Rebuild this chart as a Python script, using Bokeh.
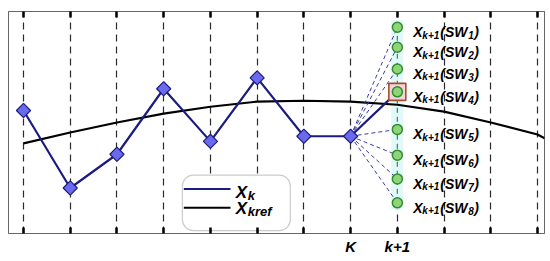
from bokeh.plotting import figure
from bokeh.models import FixedTicker, LinearAxis, BoxAnnotation, Range1d, CustomLabelingPolicy
from bokeh.core.properties import value
from bokeh.embed import file_html
from bokeh.resources import INLINE
import math

# ---------------- data ----------------
steps = [0, 1, 2, 3, 4, 5, 6, 7]
xk_values = [5.54, 2.05, 3.57, 6.52, 4.15, 7.01, 4.38, 4.38]
next_step = 8
sw_values = [9.29, 8.39, 7.41, 6.38, 4.69, 3.53, 2.46, 1.38]
sw_index = ["1", "2", "3", "4", "5", "6", "7", "8"]
chosen_sw = 3  # SW4
ref_x = [0, 1, 2, 3, 4, 5, 6, 7, 8, 9, 10, 11, 11.15]
ref_values = [4.06, 4.55, 5.00, 5.40, 5.71, 5.94, 5.98, 5.94, 5.80, 5.49, 5.00, 4.46, 4.29]
grid_ticks = list(range(12))
tick_labels = {7: "K", 8: "k+1"}

FONT = "Liberation Sans"
NAVY = "#1c1c7e"

p = figure(width=550, height=261, output_backend="svg", toolbar_location=None,
           x_range=Range1d(-0.321, 11.149), y_range=Range1d(0, 10),
           min_border_left=8, min_border_right=6, min_border_top=9, min_border_bottom=28)
p.background_fill_color = "white"
p.outline_line_color = "#666666"
p.outline_line_width = 1
p.yaxis.visible = False
p.ygrid.visible = False

# vertical dashed grid
p.xgrid.ticker = FixedTicker(ticks=grid_ticks, minor_ticks=[])
p.xgrid.grid_line_color = "#2a2a2a"
p.xgrid.grid_line_dash = "7 5"
p.xgrid.grid_line_width = 1.2
p.xgrid.grid_line_alpha = 1.0
p.xgrid.level = "image"

label_idx = [grid_ticks.index(t) for t in tick_labels]

# bottom axis
ax = p.xaxis[0]
ax.ticker = FixedTicker(ticks=grid_ticks, minor_ticks=[])
ax.major_label_overrides = dict(tick_labels)
ax.major_label_policy = CustomLabelingPolicy(code="return [%s]" % ", ".join(str(i) for i in label_idx))
ax.major_tick_in = 6
ax.major_tick_out = 0
ax.major_tick_line_width = 2.5
ax.major_tick_line_color = "black"
ax.axis_line_color = "#666666"
ax.minor_tick_line_color = None
ax.major_label_text_font = FONT
ax.major_label_text_font_style = "bold italic"
ax.major_label_text_font_size = "15px"
ax.major_label_text_color = "black"
ax.major_label_standoff = 4

# top axis (ticks only)
top = LinearAxis(ticker=FixedTicker(ticks=grid_ticks, minor_ticks=[]))
top.major_label_policy = CustomLabelingPolicy(code="return []")
top.major_label_standoff = 0
top.major_tick_in = 6
top.major_tick_out = 0
top.major_tick_line_width = 2.5
top.major_tick_line_color = "black"
top.axis_line_color = "#666666"
top.minor_tick_line_color = None
p.add_layout(top, "above")

# light highlight band behind candidate column
band = BoxAnnotation(left=next_step - 0.13, right=next_step + 0.13,
                     bottom=min(sw_values) - 0.3, top=max(sw_values) + 0.3,
                     fill_color="#e2f9f9", fill_alpha=1.0, line_color=None, level="underlay")
p.add_layout(band)

# reference trajectory
p.line(ref_x, ref_values, line_color="black", line_width=2.2)

# dashed candidate connections
others = [i for i in range(len(sw_values)) if i != chosen_sw]
p.segment(x0=[steps[-1]] * len(others), y0=[xk_values[-1]] * len(others),
          x1=[next_step] * len(others), y1=[sw_values[i] for i in others],
          line_color="#3b3ba8", line_width=1, line_dash="4 3")

# Xk trajectory including chosen step
p.line(steps + [next_step], xk_values + [sw_values[chosen_sw]], line_color=NAVY, line_width=2.2)
p.scatter(steps, xk_values, marker="square", angle=math.pi / 4, size=10, fill_color="#6a6aee",
          line_color=NAVY, line_width=1.2)

# candidate column
p.line([next_step, next_step], [min(sw_values), max(sw_values)], line_color="#2e8b57",
       line_width=1.2, line_dash="5 4")
p.scatter([next_step], [sw_values[chosen_sw]], marker="square", size=17,
          fill_color="#f6d2de", line_color="#a0522d", line_width=1.6)
p.scatter([next_step] * len(sw_values), sw_values, marker="circle", size=10,
          fill_color="#8fd477", line_color="#2f8f2f", line_width=1.5)

# candidate labels X_{k+1}(SW_i)
n = len(sw_values)
def txt(xs, ys, t, size, xo, yo):
    p.text(xs, ys, text=t, x_offset=xo, y_offset=yo, text_font=value(FONT),
           text_font_style="bold italic", text_font_size=size, text_color="black",
           text_baseline="alphabetic", text_align="left")

gx = [next_step] * n
txt(gx, sw_values, ["X"] * n, "14px", 16, 5)
txt(gx, sw_values, ["k+1"] * n, "10px", 25, 8)
txt(gx, sw_values, ["(SW"] * n, "14px", 43, 5)
txt(gx, sw_values, sw_index, "10px", 71, 8)
txt(gx, sw_values, [")"] * n, "14px", 77, 5)

# legend
leg_box = BoxAnnotation(left=3.40, right=5.71, bottom=0.13, top=2.63,
                        fill_color="white", fill_alpha=1.0, line_color="#555555",
                        line_width=1.2, border_radius=11, level="underlay")
p.add_layout(leg_box)
p.line([3.43, 4.43], [2.01, 2.01], line_color=NAVY, line_width=2)
p.line([3.43, 4.43], [1.16, 1.16], line_color="black", line_width=2)
txt([4.54], [2.01], ["X"], "17px", 0, 4)
txt([4.54], [2.01], ["k"], "13px", 12, 7)
txt([4.54], [1.16], ["X"], "17px", 0, 1)
txt([4.54], [1.16], ["kref"], "13px", 12, 4)

open("out.html", "w").write(file_html(p, INLINE))
